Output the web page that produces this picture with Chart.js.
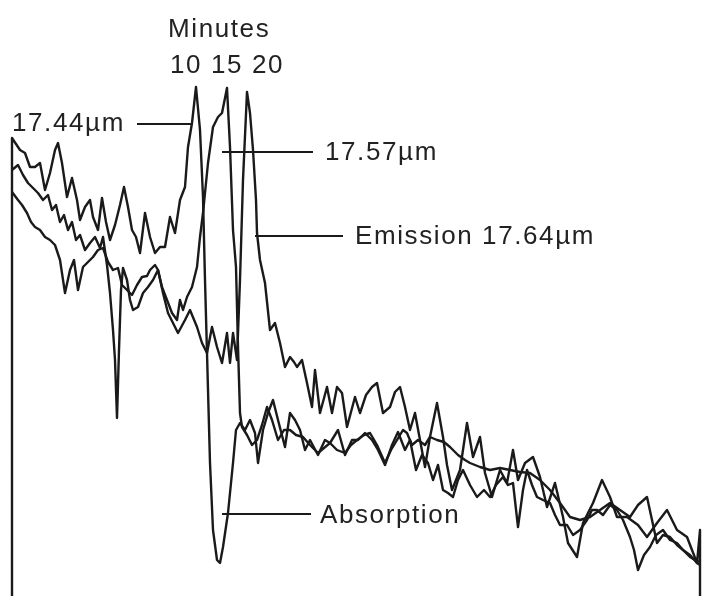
<!DOCTYPE html>
<html lang="en">
<head>
<meta charset="UTF-8">
<title>Spectra: emission and absorption</title>
<script src="https://cdn.jsdelivr.net/npm/chart.js"></script>
<style>
    html, body { margin: 0; padding: 0; background: #fff; }
    .chart-box { position: relative; width: 702px; height: 596px; }
</style>
</head>
<body>
<div class="chart-box">
    <canvas id="spectra"></canvas>
</div>
<script>
// channel positions (x) and intensities (y)
// 10 minutes trace: emission at 17.44um, then the absorption dip
const x10 = [12,12,20,25,30,35,40,45,50,55,58,62,67,72,77,80,85,90,93,98,102,106,110,115,120,124,128,132,136,140,145,150,155,160,165,170,175,180,185,188,192,196,200,203,205,207,210,213,217,220,223,228,233,236,240,245,250,255,258,263,268,273,278,285,290,295,300,305,310,318,325,330,338,345,352,358,365,372,378,385,392,398,405,410,416,422,428,433,438,443,448,453,458,463,470,477,484,490,496,503,508,513,518,523,527,532,537,543,550,555,560,567,573,580,587,592,597,603,610,617,623,630,634,638,644,650,656,663,670,677,683,690,695,700];
const y10 = [4,462,450,447,433,433,437,410,427,450,457,437,403,422,400,380,393,400,383,370,402,378,360,375,395,413,393,370,363,347,387,363,347,353,353,383,367,400,413,453,477,513,470,403,320,247,137,70,40,37,53,87,137,170,177,170,180,167,137,170,187,200,180,153,187,180,170,150,160,145,160,157,170,145,160,160,167,160,150,135,155,168,150,160,130,145,137,120,135,110,107,103,120,130,115,103,110,103,115,123,115,117,73,110,130,115,103,100,97,85,75,75,65,70,80,90,90,85,95,90,80,63,50,30,45,53,65,70,60,57,50,43,40,38];

// 15 minutes trace: emission at 17.57um
const x15 = [12,18,23,28,33,38,43,48,52,56,60,64,68,72,76,80,85,90,95,100,103,107,110,113,115,117,119,121,123,127,130,133,138,143,148,153,158,162,167,172,177,180,183,187,192,197,200,203,208,213,218,222,227,230,233,236,238,240,242,247,252,257,262,267,272,278,284,290,296,303,310,318,324,330,337,345,351,357,364,370,377,385,391,397,403,407,412,418,425,430,437,444,450,458,465,470,480,490,500,510,520,530,540,550,560,570,580,590,600,610,620,630,638,647,652,657,663,670,677,683,690,697,700];
const y15 = [430,435,425,417,412,407,400,405,390,395,378,385,370,378,360,365,350,357,363,352,363,335,307,270,240,182,250,310,332,320,300,290,293,307,313,320,330,313,300,287,280,300,290,303,313,333,363,387,437,473,483,487,512,453,370,333,253,187,173,165,155,160,175,193,180,160,170,170,165,163,155,147,152,157,150,147,155,160,165,167,155,137,150,160,170,167,155,160,155,163,160,158,153,145,140,137,133,130,132,130,128,127,120,110,97,83,80,83,90,97,90,83,95,103,80,57,65,63,55,50,45,37,35];

// 20 minutes trace: emission at 17.64um
const x20 = [12,18,22,27,31,35,40,45,50,55,60,65,70,74,78,83,88,93,98,103,108,113,118,122,127,132,137,142,147,150,155,158,163,168,173,178,185,190,197,202,207,212,217,222,227,230,233,237,240,243,247,250,253,256,257,260,265,270,275,280,285,290,294,297,302,307,312,315,320,327,332,337,342,347,355,360,366,372,377,383,390,395,400,405,410,415,420,425,430,437,443,447,452,460,467,473,480,485,492,500,507,513,518,525,533,540,547,555,563,568,577,583,593,602,610,617,627,638,647,657,667,677,687,697,700,700];
const y20 = [408,400,395,387,378,373,370,363,360,355,340,307,330,340,310,333,338,343,350,352,338,330,332,315,310,305,315,323,324,330,335,330,307,287,277,267,280,290,273,257,247,273,253,237,267,237,267,240,320,420,508,487,450,400,367,340,317,270,277,257,233,243,238,233,240,217,193,230,187,213,187,213,207,173,203,187,205,213,217,187,193,208,213,193,170,187,160,133,163,197,163,135,110,130,177,143,163,127,103,130,117,150,120,137,143,123,93,117,83,57,43,77,97,120,103,83,83,75,63,77,90,70,63,37,70,4];

const traces = [
    { label: '10', xs: x10, ys: y10 },
    { label: '15', xs: x15, ys: y15 },
    { label: '20', xs: x20, ys: y20 }
];

// text labels and leader lines, in the same data units as the traces
const notes = [
    { text: 'Minutes', x: 168, y: 563 },
    { text: '10 15 20', x: 170, y: 527 },
    { text: '17.44\u00b5m', x: 12, y: 469, line: [137, 193, 476] },
    { text: '17.57\u00b5m', x: 325, y: 440, line: [222, 313, 448] },
    { text: 'Emission 17.64\u00b5m', x: 355, y: 356, line: [255, 343, 364] },
    { text: 'Absorption', x: 320, y: 77, line: [222, 311, 86] }
];

const ink = '#1a1a1a';

const notesPlugin = {
    id: 'notes',
    afterDatasetsDraw(chart) {
        const ctx = chart.ctx;
        const sx = chart.scales.x;
        const sy = chart.scales.y;
        ctx.save();
        ctx.fillStyle = '#222';
        ctx.strokeStyle = ink;
        ctx.lineWidth = 2;
        ctx.font = '26px "Liberation Sans", Arial, sans-serif';
        ctx.letterSpacing = '1.6px';
        ctx.textBaseline = 'alphabetic';
        notes.forEach(n => {
            ctx.fillText(n.text, sx.getPixelForValue(n.x), sy.getPixelForValue(n.y));
            if (n.line) {
                const yy = sy.getPixelForValue(n.line[2]);
                ctx.beginPath();
                ctx.moveTo(sx.getPixelForValue(n.line[0]), yy);
                ctx.lineTo(sx.getPixelForValue(n.line[1]), yy);
                ctx.stroke();
            }
        });
        ctx.restore();
    }
};

new Chart(document.getElementById('spectra'), {
    type: 'line',
    data: {
        datasets: traces.map(t => ({
            label: t.label,
            data: t.xs.map((x, i) => ({ x: x, y: t.ys[i] })),
            borderColor: ink,
            borderWidth: 2.4,
            borderJoinStyle: 'round',
            pointRadius: 0,
            tension: 0,
            fill: false
        }))
    },
    options: {
        responsive: true,
        maintainAspectRatio: false,
        animation: false,
        layout: { padding: 0 },
        plugins: {
            legend: { display: false },
            tooltip: { enabled: false }
        },
        scales: {
            x: { type: 'linear', min: 0, max: 702, display: false },
            y: { type: 'linear', min: 4, max: 600, display: false }
        }
    },
    plugins: [notesPlugin]
});
</script>
</body>
</html>
